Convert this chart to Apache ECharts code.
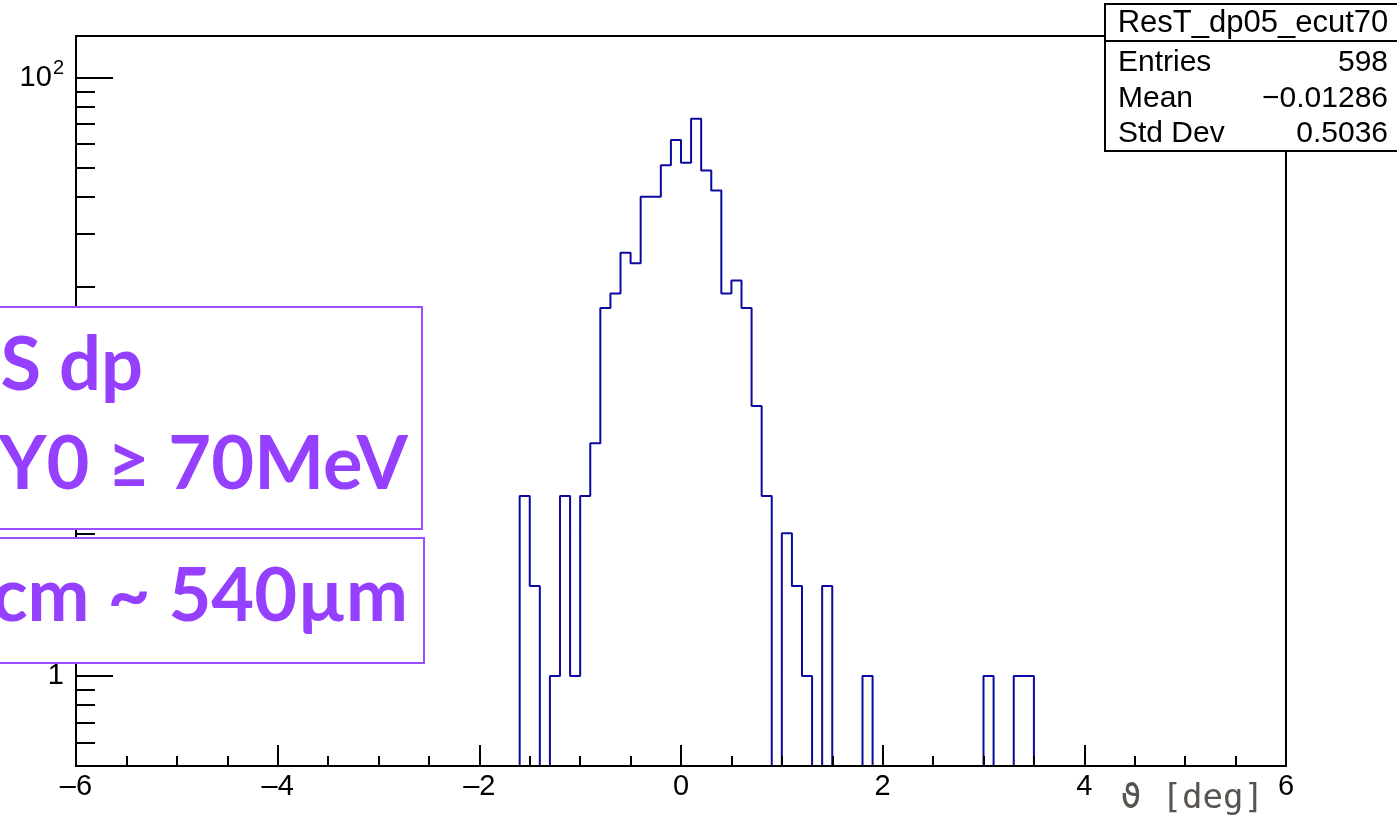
<!DOCTYPE html>
<html>
<head>
<meta charset="utf-8">
<script src="https://cdn.jsdelivr.net/npm/echarts@6/dist/echarts.min.js"></script>
<style>
  html, body { margin: 0; padding: 0; background: #fff; }
  #chart { width: 1397px; height: 820px; }
</style>
</head>
<body>
<div id="chart"></div>
<script>
// ---- data ----
const histName = 'ResT_dp05_ecut70';
const binStart = -1.6;      // low edge of first listed bin
const binWidth = 0.1;
// counts per bin from -1.6 to 3.5 (bins outside are empty)
const counts = [4, 2, 0, 1, 4, 1, 4, 6, 17, 19, 26, 24, 40, 40, 51, 62, 52, 73, 49, 42,
                19, 21, 17, 8, 4, 0, 3, 2, 1, 0, 2, 0, 0, 0, 1, 0, 0, 0, 0, 0,
                0, 0, 0, 0, 0, 0, 1, 0, 0, 1, 1];
const xRange = [-6, 6];
const yRange = [0.5, 138];
const xTickValues = [-6, -4, -2, 0, 2, 4, 6];
const xTickLabels = ['\u20136', '\u20134', '\u20132', '0', '2', '4', '6'];
const yMajorTicks = [1, 10, 100];
const yMinorTicks = [0.6, 0.7, 0.8, 0.9, 2, 3, 4, 5, 6, 7, 8, 9, 20, 30, 40, 50, 60, 70, 80, 90];
const yTickLabels = ['1', '10', '10{sup|2}'];
const statsLabels = ['Entries', 'Mean', 'Std Dev'];
const statsValues = ['598', '\u22120.01286', '0.5036'];
const overlayLines1 = ['S dp', 'Y0 \u2265 70MeV'];
const overlayLine2 = 'cm ~ 540\u00b5m';
const axisTitle = '\u03d1 [deg]';

// ---- build step outline ----
const pts = [[xRange[0], yRange[0]]];
counts.forEach((c, i) => {
  pts.push([+(binStart + i * binWidth).toFixed(3), c > 0 ? c : yRange[0]]);
});
pts.push([+(binStart + counts.length * binWidth).toFixed(3), yRange[0]]);
pts.push([xRange[1], yRange[0]]);

const helv = "'Liberation Sans', Helvetica, Arial, sans-serif";
const statsFont = "30px 'Liberation Sans', Helvetica, Arial, sans-serif";
const overlayFont = "bold 74px Lato, 'Open Sans', sans-serif";
const purple = '#9640ff';
const purpleBorder = '#9b4dff';

const chart = echarts.init(document.getElementById('chart'), null, { renderer: 'canvas' });
chart.setOption({
  animation: false,
  backgroundColor: '#fff',
  grid: { left: 76, right: 111, top: 36, bottom: 54, show: true, borderColor: '#000', borderWidth: 2, backgroundColor: 'transparent' },
  xAxis: {
    type: 'value', min: xRange[0], max: xRange[1], interval: 2, z: 5,
    axisLine: { show: true, onZero: false, lineStyle: { color: '#000', width: 2 } },
    axisTick: { show: true, inside: true, length: 21, lineStyle: { color: '#000', width: 2 } },
    minorTick: { show: true, splitNumber: 4, length: 10, lineStyle: { color: '#000', width: 2 } },
    splitLine: { show: false },
    axisLabel: {
      customValues: xTickValues, showMinLabel: true, showMaxLabel: true,
      margin: 6, color: '#000', fontSize: 29, fontFamily: helv,
      formatter: v => xTickLabels[xTickValues.indexOf(v)]
    }
  },
  yAxis: [{
    type: 'log', logBase: 10, min: yRange[0], max: yRange[1], position: 'left', z: 5,
    axisLine: { show: true, onZero: false, lineStyle: { color: '#000', width: 2 } },
    axisTick: { show: true, inside: true, length: 37, customValues: yMajorTicks, lineStyle: { color: '#000', width: 2 } },
    splitLine: { show: false },
    axisLabel: {
      customValues: yMajorTicks, margin: 12, color: '#000', fontSize: 29, fontFamily: helv,
      formatter: v => yTickLabels[yMajorTicks.indexOf(Math.round(v))],
      rich: {
        sup: { fontSize: 20, fontFamily: helv, color: '#000', padding: [0, 0, 18, 1], verticalAlign: 'top' }
      }
    }
  }, {
    type: 'log', logBase: 10, min: yRange[0], max: yRange[1], position: 'left', z: 5,
    axisLine: { show: false, onZero: false },
    axisTick: { show: true, inside: true, length: 19, customValues: yMinorTicks, lineStyle: { color: '#000', width: 2 } },
    splitLine: { show: false },
    axisLabel: { show: false }
  }],
  series: [{
    type: 'line', step: 'end', data: pts, xAxisIndex: 0, yAxisIndex: 0,
    showSymbol: false, symbol: 'none', clip: true,
    lineStyle: { color: '#0a0aa0', width: 2 }
  }],
  graphic: [
    // stats box
    { type: 'rect', z: 100, shape: { x: 1105, y: 4, width: 310, height: 147 }, style: { fill: '#fff', stroke: '#000', lineWidth: 2 } },
    { type: 'line', z: 101, shape: { x1: 1105, y1: 41, x2: 1397, y2: 41 }, style: { stroke: '#000', lineWidth: 2 } },
    { type: 'text', z: 101, style: { text: histName, x: 1253, y: 23, align: 'center', verticalAlign: 'middle', font: "31px 'Liberation Sans', Helvetica, Arial, sans-serif", fill: '#000' } },
    ...statsLabels.map((t, i) => ({ type: 'text', z: 101, style: { text: t, x: 1118, y: 63 + i * 35.5, align: 'left', verticalAlign: 'middle', font: statsFont, fill: '#000' } })),
    ...statsValues.map((t, i) => ({ type: 'text', z: 101, style: { text: t, x: 1388, y: 63 + i * 35.5, align: 'right', verticalAlign: 'middle', font: statsFont, fill: '#000' } })),
    // purple overlay boxes
    { type: 'rect', z: 100, shape: { x: -10, y: 307, width: 432, height: 222 }, style: { fill: '#fff', stroke: purpleBorder, lineWidth: 2 } },
    { type: 'rect', z: 100, shape: { x: -10, y: 538, width: 434, height: 125 }, style: { fill: '#fff', stroke: purpleBorder, lineWidth: 2 } },
    { type: 'text', z: 101, style: { text: overlayLines1[0], x: 143, y: 366, align: 'right', verticalAlign: 'middle', font: overlayFont, fill: purple } },
    { type: 'text', z: 101, style: { text: overlayLines1[1], x: 408, y: 465, align: 'right', verticalAlign: 'middle', font: overlayFont, fill: purple } },
    { type: 'text', z: 101, style: { text: overlayLine2, x: 408, y: 597, align: 'right', verticalAlign: 'middle', font: overlayFont, fill: purple } },
    // x-axis title
    { type: 'text', z: 101, style: { text: axisTitle, x: 1264, y: 799, align: 'right', verticalAlign: 'middle', font: "34px 'DejaVu Sans Mono', 'Liberation Mono', monospace", fill: '#57534e' } }
  ]
});
</script>
</body>
</html>
